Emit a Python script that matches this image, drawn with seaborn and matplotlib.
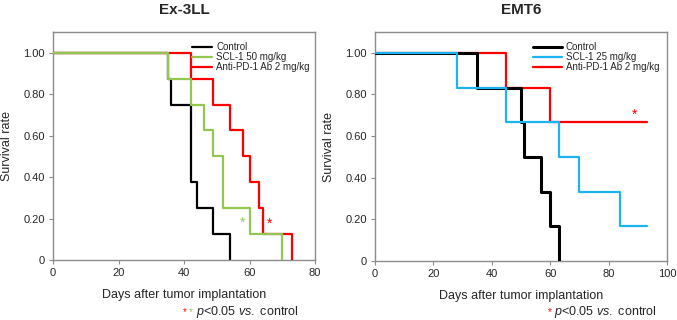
import matplotlib
matplotlib.use("Agg")
import matplotlib.pyplot as plt
import seaborn as sns
import pandas as pd

# ---- data: Ex-3LL ----
ex_ctrl_t = [0, 35, 36, 42, 44, 49, 54]
ex_ctrl_s = [1.0, 0.875, 0.75, 0.375, 0.25, 0.125, 0.0]
ex_scl_t = [0, 35, 42, 46, 49, 52, 60, 70]
ex_scl_s = [1.0, 0.875, 0.75, 0.625, 0.5, 0.25, 0.125, 0.0]
ex_pd1_t = [0, 42, 49, 54, 58, 60, 63, 64, 73]
ex_pd1_s = [1.0, 0.875, 0.75, 0.625, 0.5, 0.375, 0.25, 0.125, 0.0]
ex_labels = ["Control", "SCL-1 50 mg/kg", "Anti-PD-1 Ab 2 mg/kg"]
ex_star_green = (58, 0.18)
ex_star_red = (66, 0.177)

# ---- data: EMT6 ----
em_ctrl_t = [0, 35, 50, 51, 57, 60, 63]
em_ctrl_s = [1.0, 0.833, 0.667, 0.5, 0.333, 0.167, 0.0]
em_scl_t = [0, 28, 45, 63, 70, 84, 93]
em_scl_s = [1.0, 0.833, 0.667, 0.5, 0.333, 0.167, 0.167]
em_pd1_t = [0, 45, 60, 93]
em_pd1_s = [1.0, 0.833, 0.667, 0.667]
em_labels = ["Control", "SCL-1 25 mg/kg", "Anti-PD-1 Ab 2 mg/kg"]
em_star_red = (89, 0.70)

y_ticks = [0, 0.2, 0.4, 0.6, 0.8, 1.0]
y_ticklabels = ["0", "0.20", "0.40", "0.60", "0.80", "1.00"]

BLACK = "#000000"
GREEN = "#92C851"
RED = "#FF0000"
CYAN = "#1CB4F0"
GRAY = "#8c8c8c"

sns.set_style("white")
plt.rcParams["font.family"] = ["Liberation Sans", "DejaVu Sans"]
plt.rcParams["mathtext.fontset"] = "custom"
plt.rcParams["mathtext.rm"] = "Liberation Sans"
plt.rcParams["mathtext.it"] = "Liberation Sans:italic"

fig = plt.figure(figsize=(6.77, 3.2), dpi=100)
ax1 = fig.add_axes([53 / 677, 60 / 320, 262 / 677, 228 / 320])
ax2 = fig.add_axes([375 / 677, 59 / 320, 292 / 677, 229 / 320])


def curve(ax, t, s, color, label, lw, z):
    df = pd.DataFrame({"t": t, "s": s})
    sns.lineplot(data=df, x="t", y="s", ax=ax, color=color, lw=lw,
                 drawstyle="steps-post", label=label, zorder=z,
                 estimator=None, sort=False)


def style(ax, xmax, title):
    ax.set_xlim(0, xmax)
    ax.set_ylim(0, 1.1)
    ax.set_xticks(list(range(0, xmax + 1, 20)))
    ax.set_yticks(y_ticks)
    ax.set_yticklabels(y_ticklabels)
    for sp in ax.spines.values():
        sp.set_color(GRAY)
        sp.set_linewidth(1.0)
        sp.set_visible(True)
    ax.tick_params(axis="both", direction="out", length=3, width=0.8,
                   color=GRAY, labelsize=8, pad=3, bottom=True, left=True)
    ax.set_xlabel("Days after tumor implantation", fontsize=9, labelpad=8)
    ax.set_ylabel("Survival rate", fontsize=9, labelpad=7)
    ax.set_title(title, fontsize=11, fontweight="bold", pad=13)


# Ex-3LL
curve(ax1, ex_ctrl_t, ex_ctrl_s, BLACK, ex_labels[0], 1.6, 2)
curve(ax1, ex_scl_t, ex_scl_s, GREEN, ex_labels[1], 1.6, 4)
curve(ax1, ex_pd1_t, ex_pd1_s, RED, ex_labels[2], 1.6, 3)
style(ax1, 80, "Ex-3LL")
ax1.text(*ex_star_green, "*", color=GREEN, fontsize=10, ha="center", va="center")
ax1.text(*ex_star_red, "*", color=RED, fontsize=10, ha="center", va="center")
h, l = ax1.get_legend_handles_labels()
ax1.legend(h, l, loc="upper left", bbox_to_anchor=(0.53, 0.955), frameon=False,
           fontsize=7, handlelength=2.1, handletextpad=0.4, labelspacing=0.0,
           borderpad=0, borderaxespad=0)

# EMT6
curve(ax2, em_ctrl_t, em_ctrl_s, BLACK, em_labels[0], 2.2, 3)
curve(ax2, em_scl_t, em_scl_s, CYAN, em_labels[1], 1.6, 4)
curve(ax2, em_pd1_t, em_pd1_s, RED, em_labels[2], 1.6, 2)
style(ax2, 100, "EMT6")
ax2.text(*em_star_red, "*", color=RED, fontsize=10, ha="center", va="center")
h, l = ax2.get_legend_handles_labels()
ax2.legend(h, l, loc="upper left", bbox_to_anchor=(0.54, 0.955), frameon=False,
           fontsize=7, handlelength=3.0, handletextpad=0.4, labelspacing=0.0,
           borderpad=0, borderaxespad=0)

# footnotes
fy = (320 - 312) / 320
fig.text(185 / 677, fy, "*", color=RED, fontsize=7, ha="center", va="center")
fig.text(191 / 677, fy, "*", color=GREEN, fontsize=7, ha="center", va="center")
fig.text(196 / 677, fy, r"$\it{p}$<0.05 $\it{vs.}$ control", fontsize=9,
         ha="left", va="center")
fig.text(550 / 677, fy, "*", color=RED, fontsize=7, ha="center", va="center")
fig.text(554 / 677, fy, r"$\it{p}$<0.05 $\it{vs.}$ control", fontsize=9,
         ha="left", va="center")

fig.savefig("out.png", dpi=100)
